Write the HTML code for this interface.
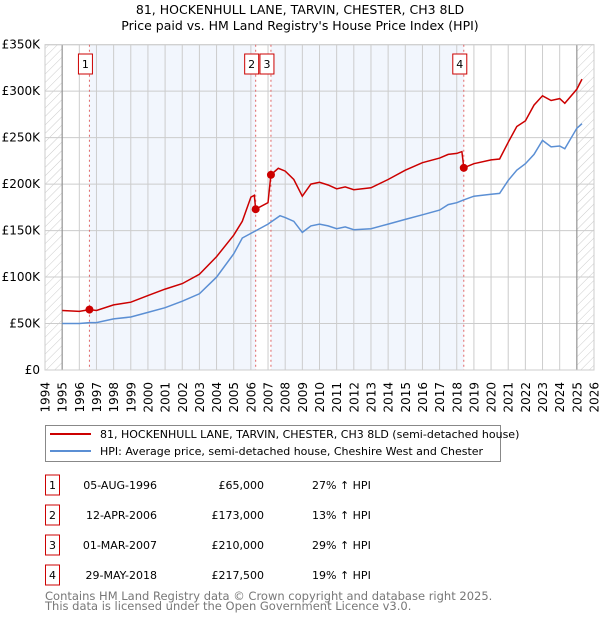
<!DOCTYPE html>
<html><head><meta charset="utf-8"><style>
body{margin:0;background:#fff;font-family:"Liberation Sans","DejaVu Sans",sans-serif}
svg text{font-family:"DejaVu Sans","Liberation Sans",sans-serif}
</style></head><body>
<svg id="c" width="600" height="620" xmlns="http://www.w3.org/2000/svg">
<defs><pattern id="hatch" width="6" height="6" patternUnits="userSpaceOnUse" patternTransform="rotate(45)"><line x1="0" y1="0" x2="0" y2="6" stroke="#ccc" stroke-width="1"/></pattern></defs>
<text x="300" y="14" text-anchor="middle" font-size="12.5">81, HOCKENHULL LANE, TARVIN, CHESTER, CH3 8LD</text>
<text x="300" y="30" text-anchor="middle" font-size="12.5">Price paid vs. HM Land Registry's House Price Index (HPI)</text>
<g id="plot"></g>
<g>
<rect x="45.5" y="425.5" width="455" height="36" fill="#fff" stroke="#888"/>
<line x1="50" y1="434" x2="91" y2="434" stroke="#cc0000" stroke-width="2"/>
<text x="100" y="438" font-size="11">81, HOCKENHULL LANE, TARVIN, CHESTER, CH3 8LD (semi-detached house)</text>
<line x1="50" y1="451" x2="91" y2="451" stroke="#5b8fd4" stroke-width="2"/>
<text x="100" y="455" font-size="11">HPI: Average price, semi-detached house, Cheshire West and Chester</text>
</g>
<g id="table" font-size="11"></g>
<text x="45" y="600" font-size="11.5" fill="#777">Contains HM Land Registry data © Crown copyright and database right 2025.</text>
<text x="45" y="610" font-size="11.5" fill="#777">This data is licensed under the Open Government Licence v3.0.</text>
</svg>
<script>
const hpiYears=[1995,1996,1996.6,1997,1998,1999,2000,2001,2002,2003,2004,2005,2005.5,2006,2006.3,2007,2007.7,2008,2008.5,2009,2009.5,2010,2010.5,2011,2011.5,2012,2013,2014,2015,2016,2017,2017.5,2018,2018.4,2019,2020,2020.5,2021,2021.5,2022,2022.5,2023,2023.5,2024,2024.3,2025,2025.3];
const hpiValues=[50,50,51,51,55,57,62,67,74,82,100,125,142,147,150,157,166,164,160,148,155,157,155,152,154,151,152,157,162,167,172,178,180,183,187,189,190,204,215,222,232,247,240,241,238,260,265];
const paidYears=[1995,1996,1996.6,1997,1998,1999,2000,2001,2002,2003,2004,2005,2005.5,2006,2006.2,2006.28,2007,2007.17,2007.6,2008,2008.5,2009,2009.5,2010,2010.5,2011,2011.5,2012,2013,2014,2015,2016,2017,2017.5,2018,2018.3,2018.41,2019,2020,2020.5,2021,2021.5,2022,2022.5,2023,2023.5,2024,2024.3,2025,2025.3];
const paidValues=[64,63,65,64,70,73,80,87,93,103,122,145,160,186,188,173,180,210,217,214,205,187,200,202,199,195,197,194,196,205,215,223,228,232,233,235,217.5,222,226,227,245,262,268,285,295,290,292,287,302,313];
const saleIds=["1","2","3","4"];
const saleYears=[1996.59,2006.28,2007.17,2018.41];
const salePrices=[65000,173000,210000,217500];
const saleDates=["05-AUG-1996","12-APR-2006","01-MAR-2007","29-MAY-2018"];
const saleDiffs=["27% ↑ HPI","13% ↑ HPI","29% ↑ HPI","19% ↑ HPI"];
const yTicks=[0,50,100,150,200,250,300,350];
const yTickLabels=["£0","£50K","£100K","£150K","£200K","£250K","£300K","£350K"];
const xTicks=[1994,1995,1996,1997,1998,1999,2000,2001,2002,2003,2004,2005,2006,2007,2008,2009,2010,2011,2012,2013,2014,2015,2016,2017,2018,2019,2020,2021,2022,2023,2024,2025,2026];

const L=45,R=594,T=44.7,B=370;
const X=y=>L+(y-1994)*(R-L)/32;
const Y=v=>B-v*(B-T)/350;
const NS="http://www.w3.org/2000/svg";
const g=document.getElementById('plot');
function mk(t,a,p){const e=document.createElementNS(NS,t);for(const k in a)e.setAttribute(k,a[k]);(p||g).appendChild(e);return e;}
let e;
e=mk('rect',{x:L,y:T,width:R-L,height:B-T,fill:'#fff'});


e=mk('rect',{x:X(saleYears[0]),y:T,width:X(saleYears[1])-X(saleYears[0]),height:B-T,fill:'#f2f6fd'});


e=mk('rect',{x:X(saleYears[2]),y:T,width:X(saleYears[3])-X(saleYears[2]),height:B-T,fill:'#f2f6fd'});


e=mk('rect',{x:L,y:T,width:X(1995)-L,height:B-T,fill:'url(#hatch)'});


e=mk('rect',{x:X(2025),y:T,width:R-X(2025),height:B-T,fill:'url(#hatch)'});


xTicks.forEach(y=>{
 e=mk('line',{x1:X(y),x2:X(y),y1:T,y2:B,stroke:'#ccc','stroke-width':1});
 
 
 const tx=X(y)+4.5;
 e=mk('text',{x:tx,y:382,'font-size':12,'text-anchor':'end',transform:'rotate(-90 '+tx+' 382)'});
 e.textContent=y;
 
 
});
yTicks.forEach((v,i)=>{
 e=mk('line',{x1:L,x2:R,y1:Y(v),y2:Y(v),stroke:'#ccc','stroke-width':1});
 
 
 e=mk('text',{x:40,y:Y(v)+4,'font-size':12,'text-anchor':'end'});
 e.textContent=yTickLabels[i];
 
 
});
e=mk('line',{x1:X(1995),x2:X(1995),y1:T,y2:B,stroke:'#888'});


e=mk('line',{x1:X(2025),x2:X(2025),y1:T,y2:B,stroke:'#888'});


e=mk('rect',{x:L,y:T,width:R-L,height:B-T,fill:'none',stroke:'#ccc'});


saleYears.forEach((y,i)=>{
 e=mk('line',{x1:X(y),x2:X(y),y1:T,y2:B,stroke:'#e06666','stroke-dasharray':'2,3'});
 
 
 e=mk('rect',{x:X(y)-11,y:54,width:14,height:20,fill:'#fff',stroke:'#cc0000'});
 
 
 e=mk('text',{x:X(y)-4,y:68,'font-size':11,'text-anchor':'middle'});
 e.textContent=saleIds[i];
 
 
});
function pts(xs,vs){return xs.map((x,i)=>X(x).toFixed(1)+','+Y(vs[i]).toFixed(1)).join(' ');}
e=mk('polyline',{points:pts(hpiYears,hpiValues),fill:'none',stroke:'#5b8fd4','stroke-width':1.5});


e=mk('polyline',{points:pts(paidYears,paidValues),fill:'none',stroke:'#cc0000','stroke-width':1.5});


saleYears.forEach((y,i)=>{
 e=mk('circle',{cx:X(y),cy:Y(salePrices[i]/1000),r:4,fill:'#cc0000'});
 
 
});
const tb=document.getElementById('table');
saleIds.forEach((id,i)=>{
 const cy=485+i*30;
 e=mk('rect',{x:45.5,y:cy-10,width:14,height:20,fill:'#fff',stroke:'#cc0000'},tb);
 
 
 e=mk('text',{x:52.5,y:cy+4,'text-anchor':'middle'},tb);e.textContent=id;
 
 
 e=mk('text',{x:157,y:cy+4,'text-anchor':'end'},tb);e.textContent=saleDates[i];
 
 
 e=mk('text',{x:264,y:cy+4,'text-anchor':'end'},tb);e.textContent='£'+salePrices[i].toLocaleString('en-GB');
 
 
 e=mk('text',{x:312,y:cy+4},tb);e.textContent=saleDiffs[i];
 
 
});
</script>
</body></html>
